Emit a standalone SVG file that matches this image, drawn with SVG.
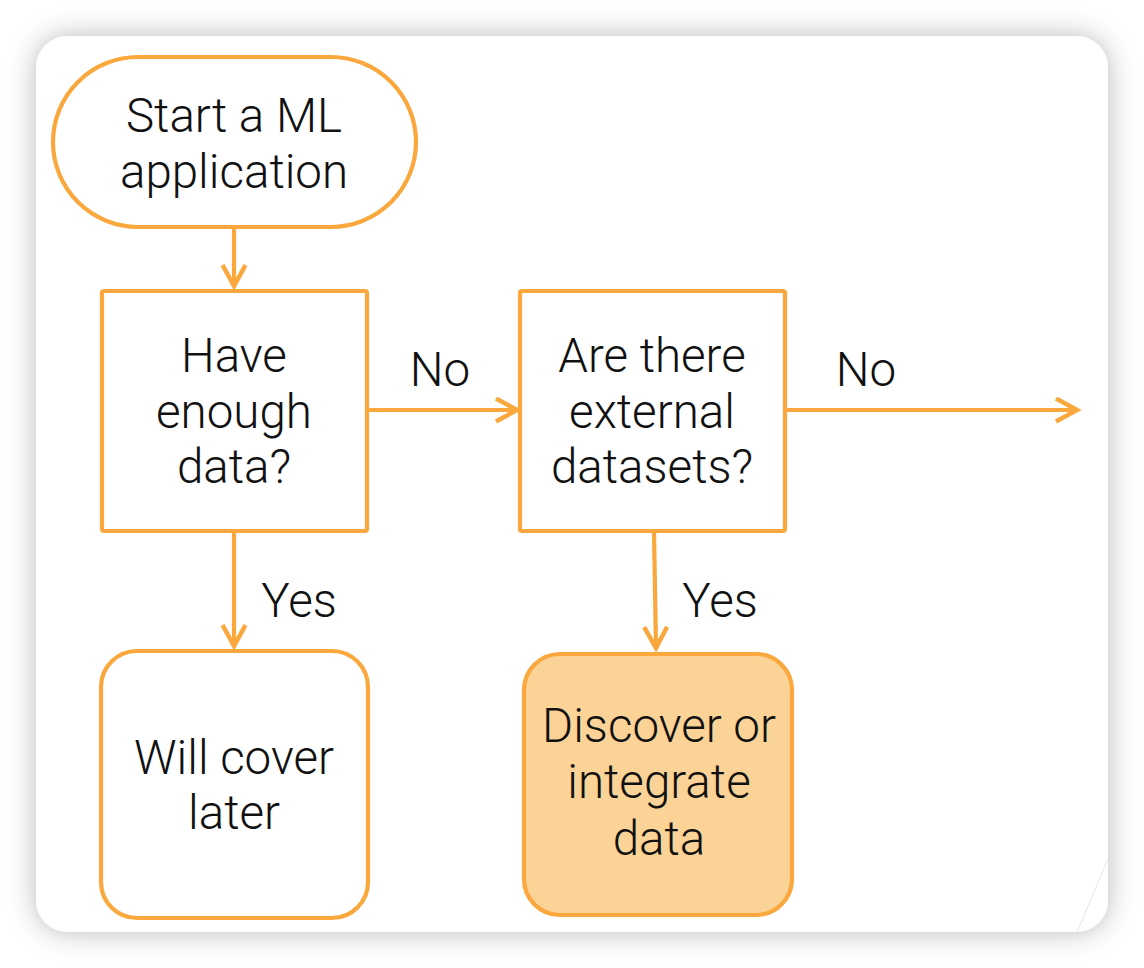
<svg xmlns="http://www.w3.org/2000/svg" width="1144" height="968" viewBox="0 0 1144 968">
<defs>
<filter id="shadow" x="-10%" y="-10%" width="120%" height="120%">
<feDropShadow dx="0" dy="0" stdDeviation="14" flood-color="#000" flood-opacity="0.28"/>
</filter>
<marker id="arr" markerWidth="28" markerHeight="28" viewBox="0 0 28 28" refX="23" refY="13" orient="auto" markerUnits="userSpaceOnUse">
<path d="M2,1.5 L23,13 L2,24.5" fill="none" stroke="#FAA83E" stroke-width="4.5"/>
</marker>
</defs>
<style>
.n{fill:#fff;stroke:#FAA83E;stroke-width:4.2}
.t{font-family:Roboto,"Liberation Sans",sans-serif;font-size:47.5px;font-weight:350;fill:#111;text-anchor:middle}
.c{fill:none;stroke:#FAA83E;stroke-width:4.2}
</style>
<rect width="1144" height="968" fill="#fff"/>
<rect x="36" y="36" width="1072" height="896" rx="32" fill="#fff" filter="url(#shadow)"/>
<line x1="1108" y1="859" x2="1077" y2="932" stroke="#e6e6e6" stroke-width="1"/>
<g id="connectors">
<path class="c" d="M234,228 L234,286" marker-end="url(#arr)"/>
<path class="c" d="M367,410 L517,410" marker-end="url(#arr)"/>
<path class="c" d="M785,410 L1077,410" marker-end="url(#arr)"/>
<path class="c" d="M234,531 L234,646" marker-end="url(#arr)"/>
<path class="c" d="M654,531 L656,648" marker-end="url(#arr)"/>
<text class="t" x="440" y="386">No</text>
<text class="t" x="866" y="386">No</text>
<text class="t" x="299" y="617">Yes</text>
<text class="t" x="720" y="617">Yes</text>
</g>
<g id="start">
<rect class="n" x="53" y="57" width="363" height="170" rx="85"/>
<text class="t" x="234" y="132">Start a ML</text>
<text class="t" x="234" y="188">application</text>
</g>
<g id="enough">
<rect class="n" x="102" y="291" width="265" height="240" rx="2"/>
<text class="t" x="234" y="372">Have</text>
<text class="t" x="234" y="428">enough</text>
<text class="t" x="234" y="483">data?</text>
</g>
<g id="external">
<rect class="n" x="520" y="291" width="265" height="240" rx="2"/>
<text class="t" x="652" y="372">Are there</text>
<text class="t" x="652" y="428">external</text>
<text class="t" x="652" y="483">datasets?</text>
</g>
<g id="later">
<rect class="n" x="101" y="651" width="267" height="267" rx="36"/>
<text class="t" x="234" y="774">Will cover</text>
<text class="t" x="234" y="829">later</text>
</g>
<g id="discover">
<rect class="n" x="524" y="654" width="268" height="261" rx="36" style="fill:#FBD396"/>
<text class="t" x="659" y="742">Discover or</text>
<text class="t" x="659" y="798">integrate</text>
<text class="t" x="659" y="855">data</text>
</g>
</svg>
